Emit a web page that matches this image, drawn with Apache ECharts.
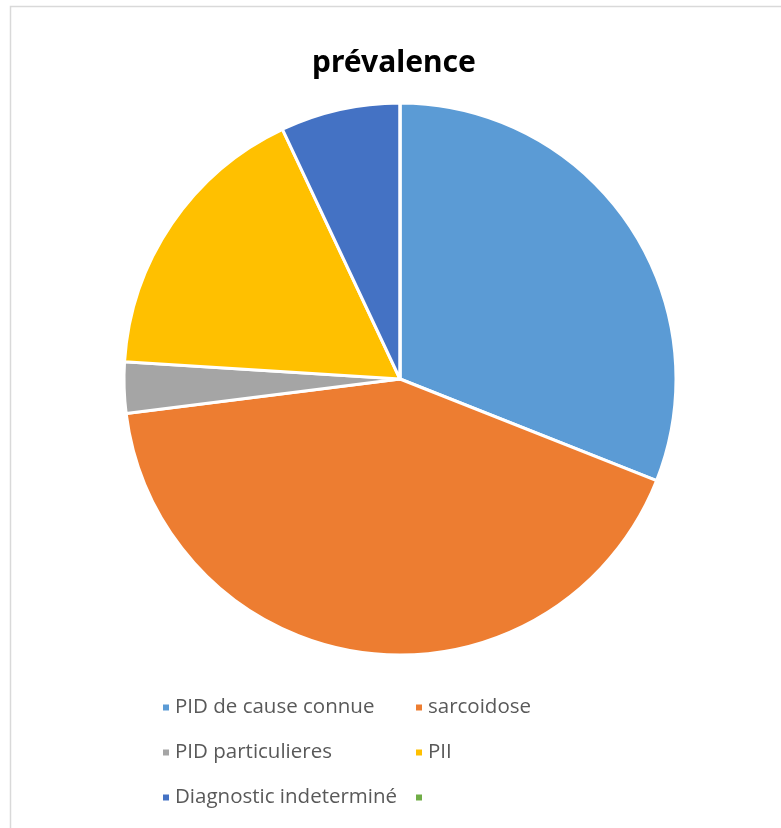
<!DOCTYPE html>
<html><head><meta charset="utf-8">
<script src="https://cdn.jsdelivr.net/npm/echarts@6/dist/echarts.min.js"></script>
<style>html,body{margin:0;padding:0;background:#fff}#c{width:781px;height:828px}</style>
</head><body><div id="c"></div>
<script>
const categories = ['PID de cause connue', 'sarcoidose', 'PID particulieres', 'PII', 'Diagnostic indeterminé', ' '];
const values = [31, 42, 3, 17, 7, 0];
const colors = ['#5B9BD5', '#ED7D31', '#A5A5A5', '#FFC000', '#4472C4', '#70AD47'];

const chart = echarts.init(document.getElementById('c'));
chart.setOption({
  animation: false,
  graphic: [{
    type: 'rect', left: 8, top: 4, shape: {width: 900, height: 900},
    style: {fill: 'none', stroke: '#d9d9d9', lineWidth: 1.5}, silent: true, z: -10
  }],
  title: {
    text: 'prévalence', left: 389, top: 43, textAlign: 'center',
    textStyle: {fontFamily: 'Noto Sans', fontWeight: 'bold', fontSize: 30, color: '#000'}
  },
  legend: {
    left: 156, top: 680, width: 520, itemGap: 0,
    itemWidth: 8, itemHeight: 8, icon: 'rect',
    data: categories,
    textStyle: {fontFamily: 'Open Sans', fontSize: 20.5, color: '#595959', width: 239, lineHeight: 45}
  },
  series: [{
    type: 'pie', center: [400, 379], radius: 276, startAngle: 90, clockwise: true,
    label: {show: false}, labelLine: {show: false},
    itemStyle: {borderColor: '#fff', borderWidth: 3},
    data: categories.map((n, i) => ({name: n, value: values[i], itemStyle: {color: colors[i]}}))
  }]
});
</script></body></html>
